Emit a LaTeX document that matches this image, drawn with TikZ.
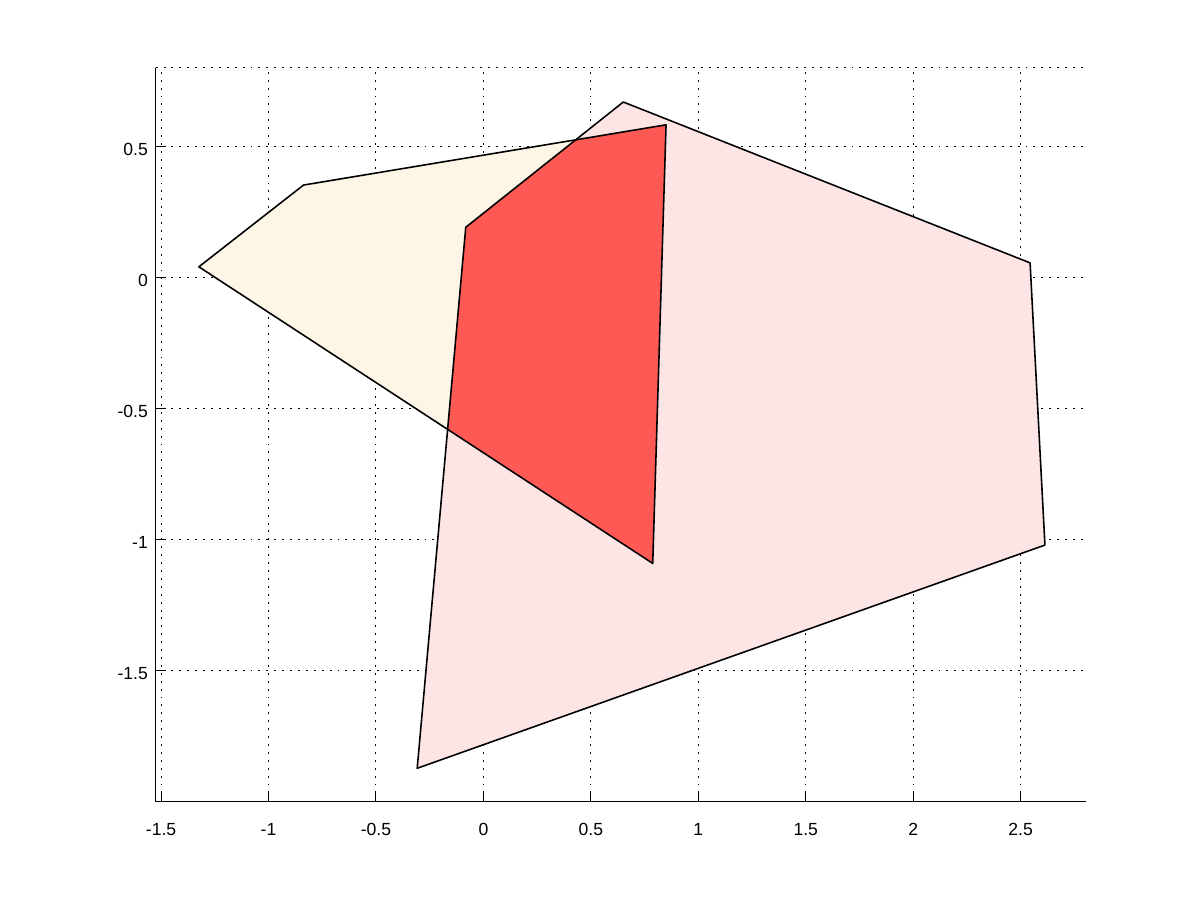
\documentclass[tikz,border=0pt]{standalone}
\usepackage{fontspec}
\setmainfont{Liberation Sans}
\usetikzlibrary{calc}
\definecolor{hullpale}{HTML}{FDF5E6}
\definecolor{hullpink}{HTML}{FDE5E6}
\definecolor{hullred}{HTML}{FF5955}

\begin{document}
\begin{tikzpicture}[
    x=4.298cm, y=5.24cm,
    font=\fontsize{10}{12}\selectfont,
    gridline/.style={line width=0.55pt, dash pattern=on 1.1pt off 3.4pt},
    axisline/.style={line width=0.6pt},
    tickmark/.style={line width=0.6pt},
    hull/.style={draw=black, line width=0.9pt, line join=round},
    xlab/.style={anchor=base, inner sep=0pt},
    ylab/.style={anchor=east, inner sep=0pt},
]
    \useasboundingbox (-2.2494,-2.3767) rectangle (3.3346,1.0584);
    \fill[white] (-2.2494,-2.3767) rectangle (3.3346,1.0584);

    % =====================================================================
    % GRID
    % =====================================================================
    \foreach \gx in {-1.5,-1,-0.5,0,0.5,1,1.5,2,2.5}
        \draw[gridline] (\gx,-2) -- (\gx,0.8);
    \foreach \gy in {-1.5,-1,-0.5,0,0.5}
        \draw[gridline] (-1.525,\gy) -- (2.805,\gy);
    \draw[gridline] (-1.525,0.8) -- (2.805,0.8);

    % =====================================================================
    % POLYGONS
    % =====================================================================
    \coordinate (yA) at (-1.324,0.040);
    \coordinate (yB) at (-0.837,0.352);
    \coordinate (yC) at (0.850,0.582);
    \coordinate (yD) at (0.788,-1.092);

    \coordinate (pA) at (0.651,0.669);
    \coordinate (pB) at (2.544,0.055);
    \coordinate (pC) at (2.613,-1.022);
    \coordinate (pD) at (-0.308,-1.874);
    \coordinate (pE) at (-0.082,0.191);

    \fill[hullpale] (yA) -- (yB) -- (yC) -- (yD) -- cycle;
    \fill[hullpink] (pA) -- (pB) -- (pC) -- (pD) -- (pE) -- cycle;
    % overlap of both hulls
    \begin{scope}
        \clip (yA) -- (yB) -- (yC) -- (yD) -- cycle;
        \fill[hullred] (pA) -- (pB) -- (pC) -- (pD) -- (pE) -- cycle;
    \end{scope}

    \draw[hull] (yA) -- (yB) -- (yC) -- (yD) -- cycle;
    \draw[hull] (pA) -- (pB) -- (pC) -- (pD) -- (pE) -- cycle;

    % =====================================================================
    % AXES
    % =====================================================================
    \coordinate (origin) at (-1.525,-2);
    \coordinate (xend) at (2.805,-2);
    \coordinate (yend) at (-1.525,0.8);
    \draw[axisline] (yend) -- (origin) -- (xend);

    \foreach \gx in {-1.5,-1,-0.5,0,0.5,1,1.5,2,2.5} {
        \draw[tickmark] (\gx,-2) -- (\gx,-1.9656);
        \node[xlab] (xt\gx) at (\gx,-2.130) {\gx};
    }
    \foreach \gy in {-1.5,-1,-0.5,0,0.5} {
        \draw[tickmark] (-1.525,\gy) -- (-1.4831,\gy);
        \node[ylab, xshift=-0.15cm, yshift=-0.06cm] (yt\gy) at (-1.525,\gy) {\gy};
    }

\end{tikzpicture}
\end{document}
